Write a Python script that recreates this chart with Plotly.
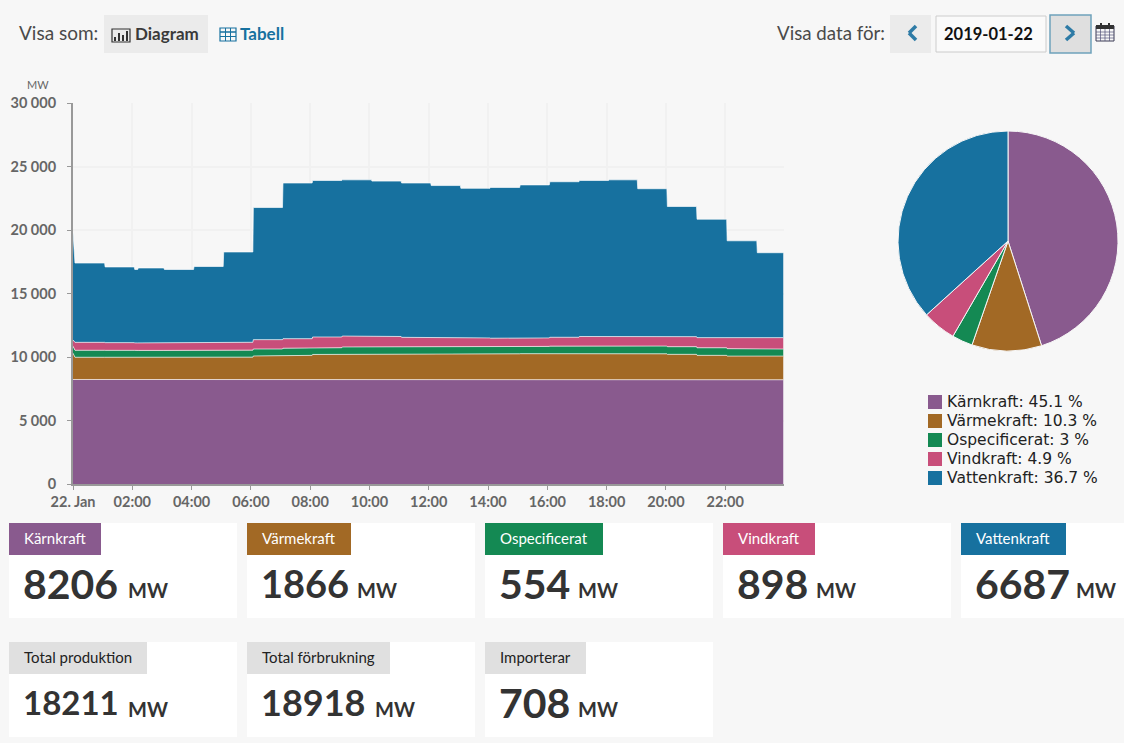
# kraft.py

import plotly.graph_objects as go

W = 1124
H = 743

BG = '#f7f7f7'
TEXT = '#3a3a3a'
LINK = '#17719f'

colors = {
    'Kärnkraft': '#895a8e',
    'Värmekraft': '#a26925',
    'Ospecificerat': '#148953',
    'Vindkraft': '#c84e7a',
    'Vattenkraft': '#17719f',
}

# Step start time and production for each source (MW)
steps = [
    # time, karn, varme, ospec, vind, vatten
    ('00:00', 8230, 2070, 550, 490, 8460),
    ('00:04', 8230, 1750, 550, 625, 6245),
    ('01:05', 8230, 1750, 545, 605, 5960),
    ('02:05', 8225, 1750, 545, 590, 5780),
    ('02:12', 8225, 1750, 545, 590, 5900),
    ('03:05', 8225, 1750, 545, 600, 5770),
    ('04:05', 8225, 1755, 545, 600, 6000),
    ('05:05', 8225, 1765, 550, 620, 7110),
    ('06:05', 8225, 1855, 550, 735, 10405),
    ('07:05', 8225, 1905, 560, 750, 12260),
    ('08:05', 8225, 1975, 530, 845, 12325),
    ('09:05', 8225, 2015, 550, 860, 12300),
    ('10:05', 8225, 2000, 580, 810, 12235),
    ('11:05', 8230, 2000, 580, 740, 12150),
    ('12:05', 8230, 2015, 565, 720, 11970),
    ('13:05', 8230, 2015, 570, 685, 11780),
    ('14:05', 8230, 2020, 570, 660, 11870),
    ('15:05', 8230, 2030, 575, 665, 12050),
    ('16:05', 8230, 2040, 585, 700, 12245),
    ('17:05', 8230, 2060, 585, 740, 12285),
    ('18:05', 8230, 2060, 600, 760, 12300),
    ('19:03', 8230, 2020, 610, 770, 11620),
    ('20:03', 8230, 1980, 600, 790, 10250),
    ('21:03', 8225, 1905, 595, 800, 9325),
    ('22:04', 8220, 1850, 585, 820, 7675),
    ('23:05', 8206, 1866, 554, 898, 6687),
]
end_time = '23:58'
cols = list(colors)

# Each value holds until one minute before the next step starts
def minutes(t):
    return int(t[:2]) * 60 + int(t[3:])

def stamp(m):
    return '2019-01-22 %02d:%02d' % (m // 60, m % 60)

x = []
series = {c: [] for c in cols}
for i, row in enumerate(steps):
    x.append(stamp(minutes(row[0])))
    for j, c in enumerate(cols):
        series[c].append(row[j + 1])
    if i == 0:
        continue
    stop = minutes(steps[i + 1][0]) - 1 if i + 1 < len(steps) else minutes(end_time)
    x.append(stamp(stop))
    for j, c in enumerate(cols):
        series[c].append(row[j + 1])

fig = go.Figure()

for c in cols:
    fig.add_trace(go.Scatter(
        x=x,
        y=series[c],
        mode='lines',
        stackgroup='one',
        fillcolor=colors[c],
        line=dict(color='rgba(255,255,255,0.65)', width=1),
        showlegend=False,
        name=c
    ))

# Pie of the latest values
pie_labels = [
    'Kärnkraft: 45.1 %',
    'Värmekraft: 10.3 %',
    'Ospecificerat: 3 %',
    'Vindkraft: 4.9 %',
    'Vattenkraft: 36.7 %'
]
latest = [8206, 1866, 554, 898, 6687]

fig.add_trace(go.Pie(
    labels=pie_labels,
    values=latest,
    sort=False,
    direction='clockwise',
    rotation=0,
    textinfo='none',
    showlegend=False,
    marker=dict(colors=list(colors.values()), line=dict(color='#f7f7f7', width=1)),
    domain=dict(x=[898 / W, 1118 / W], y=[1 - 351 / H, 1 - 131 / H])
))

shapes = []
notes = []

def rect(x0, y0, x1, y1, fill, border=None, bw=1, layer='below'):
    shapes.append(dict(
        type='rect', xref='paper', yref='paper', layer=layer,
        x0=x0 / W, x1=x1 / W, y0=1 - y0 / H, y1=1 - y1 / H,
        fillcolor=fill,
        line=dict(color=border or fill, width=bw if border else 0)
    ))

def seg(x0, y0, x1, y1, color, width=1.5):
    shapes.append(dict(
        type='line', xref='paper', yref='paper', layer='above',
        x0=x0 / W, x1=x1 / W, y0=1 - y0 / H, y1=1 - y1 / H,
        line=dict(color=color, width=width)
    ))

def text(px, py, s, size, color=TEXT, family='Lato', bold=False, anchor='left'):
    # annotations carry about 2px of padding
    notes.append(dict(
        xref='paper', yref='paper', x=(px - 2) / W, y=1 - py / H,
        xanchor=anchor, yanchor='middle', showarrow=False,
        text='<b>%s</b>' % s if bold else s,
        font=dict(size=size, color=color, family=family)
    ))

# Top bar
text(19, 33, 'Visa som:', 19, '#4a4a4a')
rect(104, 15, 208, 53, '#ebebeb')
text(135, 34, 'Diagram', 17, TEXT, bold=True)
text(240, 34, 'Tabell', 17, LINK, bold=True)

# bar chart icon
rect(112, 29, 130, 42, 'rgba(0,0,0,0)', '#333333', 1.2, layer='above')
for bx, top in [(115, 37), (119, 33), (123, 35), (127, 31)]:
    seg(bx, top, bx, 41, '#333333', 2)

# table icon
rect(220, 28, 236, 41, 'rgba(0,0,0,0)', LINK, 1.2, layer='above')
seg(220, 32, 236, 32, LINK, 1.5)
seg(220, 36.5, 236, 36.5, LINK, 1)
seg(225.5, 28, 225.5, 41, LINK, 1)
seg(230.5, 28, 230.5, 41, LINK, 1)

text(777, 33, 'Visa data för:', 18.7, '#4a4a4a')
rect(890, 15, 931, 53, '#ebebeb')
seg(916, 26, 909, 33, '#2e7ba6', 3.5)
seg(909, 33, 916, 40, '#2e7ba6', 3.5)
rect(936, 16, 1046, 52, '#fafafa', '#cccccc', 1)
text(944, 34, '2019-01-22', 16.5, '#111111', bold=True)
rect(1050, 15, 1091, 53, '#dfdfdf', '#6fa2bc', 1.5)
seg(1066, 26, 1074, 33, '#2e7ba6', 3.5)
seg(1074, 33, 1066, 40, '#2e7ba6', 3.5)

# calendar icon
rect(1096, 26, 1114, 41, 'rgba(0,0,0,0)', '#3a3a55', 1, layer='above')
rect(1096, 25, 1114, 29, '#333333', layer='above')
seg(1101, 23, 1101, 27, '#333333', 2)
seg(1109, 23, 1109, 27, '#333333', 2)
for gy in [32, 35, 38]:
    seg(1096, gy, 1114, gy, '#55557a', 0.7)
for gx in [1100.5, 1105, 1109.5]:
    seg(gx, 29, gx, 41, '#55557a', 0.7)

text(27, 84, 'MW', 11, '#666666')

# Pie legend
for i, (label, c) in enumerate(zip(pie_labels, cols)):
    ly = 402 + i * 19
    rect(928, ly - 7, 942, ly + 7, colors[c])
    text(947, ly, label, 15.5, '#222222', family='DejaVu Sans')

# Cards below the chart
cards = [
    (9, 523, 'Kärnkraft', 101, '8206', 41, 128, colors['Kärnkraft']),
    (247, 523, 'Värmekraft', 351, '1866', 38, 357, colors['Värmekraft']),
    (485, 523, 'Ospecificerat', 603, '554', 41, 578, colors['Ospecificerat']),
    (723, 523, 'Vindkraft', 815, '898', 41, 816, colors['Vindkraft']),
    (961, 523, 'Vattenkraft', 1066, '6687', 41, 1076, colors['Vattenkraft']),
    (9, 642, 'Total produktion', 147, '18211', 33, 128, None),
    (247, 642, 'Total förbrukning', 390, '18918', 36, 375, None),
    (485, 642, 'Importerar', 586, '708', 41, 578, None),
]

for cx, cy, label, head_end, value, size, mw_x, color in cards:
    rect(cx, cy, min(cx + 228, W), cy + 95, '#ffffff')
    rect(cx, cy, head_end, cy + 32, color or '#e0e0e0')
    text(cx + 15, cy + 15, label, 15, '#ffffff' if color else '#222222')
    text(cx + 14, cy + 60, value, size, '#333333', bold=True)
    text(mw_x, cy + 67, 'MW', 20, '#333333', bold=True)

axis_style = dict(
    automargin=False,
    tickfont=dict(family='Lato', size=14.5, color='#666666', weight='bold'),
    ticks='outside',
    ticklen=4,
    tickcolor='#999999',
    showline=True,
    linewidth=2,
    linecolor='#999999',
    showgrid=True,
    gridcolor='#f1f1f1',
    gridwidth=2,
    zeroline=False
)

fig.update_layout(
    width=W,
    height=H,
    margin=dict(l=0, r=0, t=0, b=0),
    paper_bgcolor=BG,
    plot_bgcolor=BG,
    separators=', ',
    shapes=shapes,
    annotations=notes,
    showlegend=False,
    xaxis=dict(
        domain=[73 / W, 783.5 / W],
        type='date',
        range=['2019-01-22 00:00', '2019-01-22 23:58'],
        tickvals=['2019-01-22 %02d:00' % h for h in range(0, 24, 2)],
        ticktext=['22. Jan'] + ['%02d:00' % h for h in range(2, 24, 2)],
        **axis_style
    ),
    yaxis=dict(
        domain=[1 - 484 / H, 1 - 103 / H],
        range=[0, 30000],
        tickvals=[0, 5000, 10000, 15000, 20000, 25000, 30000],
        tickformat=',d',
        ticklabelstandoff=8,
        **axis_style
    ),
    hovermode=False
)

# Page margin off so the figure fills the window
fig.write_html(
    "out.html",
    config=dict(displayModeBar=False),
    post_script="document.body.style.margin='0';document.body.style.overflow='hidden';"
)
